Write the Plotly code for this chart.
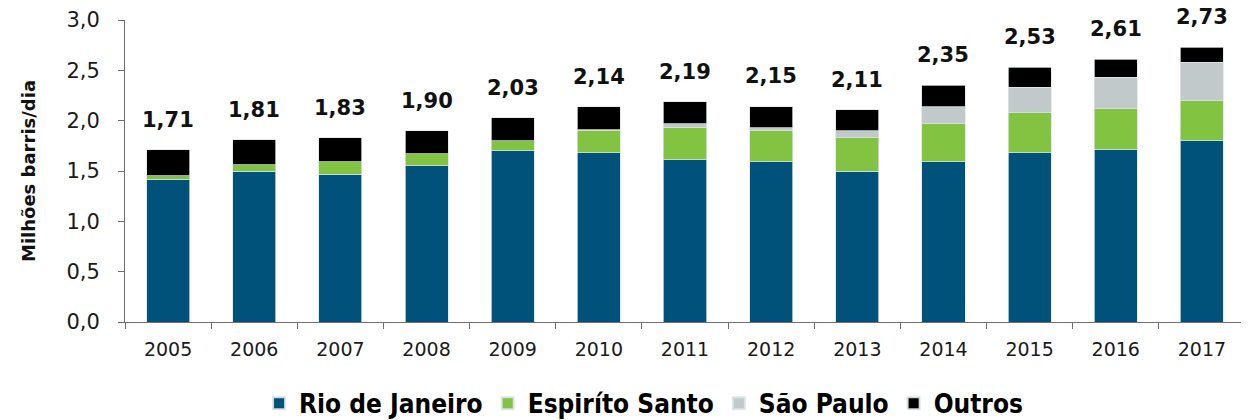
import plotly.graph_objects as go

years = ["2005", "2006", "2007", "2008", "2009", "2010", "2011", "2012", "2013", "2014", "2015", "2016", "2017"]
rio = [1.42, 1.50, 1.47, 1.55, 1.70, 1.68, 1.61, 1.59, 1.50, 1.59, 1.68, 1.71, 1.80]
espirito = [0.035, 0.06, 0.12, 0.12, 0.10, 0.22, 0.32, 0.31, 0.33, 0.38, 0.40, 0.41, 0.40]
sao_paulo = [0.0, 0.0, 0.0, 0.0, 0.0, 0.01, 0.04, 0.03, 0.07, 0.17, 0.25, 0.31, 0.38]
outros = [0.255, 0.25, 0.24, 0.23, 0.23, 0.23, 0.22, 0.21, 0.21, 0.21, 0.20, 0.18, 0.15]
totals = [1.71, 1.81, 1.83, 1.90, 2.03, 2.14, 2.19, 2.15, 2.11, 2.35, 2.53, 2.61, 2.73]
total_labels = ["1,71", "1,81", "1,83", "1,90", "2,03", "2,14", "2,19", "2,15", "2,11", "2,35", "2,53", "2,61", "2,73"]
series_names = ["Rio de Janeiro", "Espiríto Santo", "São Paulo", "Outros"]
series_colors = ["#00527A", "#82C341", "#C2C9CA", "#000000"]

fig = go.Figure()
for name, vals, color in zip(series_names, [rio, espirito, sao_paulo, outros], series_colors):
    fig.add_trace(go.Bar(
        x=years, y=vals, name=name,
        marker=dict(color=color, line=dict(color="rgba(220,228,232,0.9)", width=0.8)),
    ))

# annotations on a category axis use the category index
for i, (tot, lab) in enumerate(zip(totals, total_labels)):
    fig.add_annotation(x=i, y=tot, text="<b>" + lab + "</b>", showarrow=False,
                       xref="x", yref="y", yanchor="middle", yshift=30, borderpad=0,
                       font=dict(family="DejaVu Sans", size=21, color="#111111"))

fig.update_layout(
    width=1249, height=420,
    barmode="stack", bargap=0.5,
    separators=",.",
    plot_bgcolor="white", paper_bgcolor="white",
    margin=dict(l=117, r=12, t=12, b=106, autoexpand=False),
    font=dict(family="DejaVu Sans", size=20, color="#1a1a1a"),
    showlegend=True,
    legend=dict(orientation="h", x=0.463, xanchor="center", y=-0.347, yanchor="bottom",
                font=dict(family="DejaVu Sans Condensed", size=26, color="#000000", weight="bold"),
                itemsizing="constant", traceorder="normal"),
    xaxis=dict(type="category", range=[-0.5, len(years) - 0.5], automargin=False,
               showline=True, linecolor="#6f6f6f", linewidth=1, ticks="outside",
               tickson="boundaries", ticklen=6, tickcolor="#6f6f6f", tickangle=0,
               ticklabelstandoff=10,
               tickfont=dict(family="DejaVu Sans", size=19, color="#1a1a1a")),
    yaxis=dict(range=[0, 3.0], dtick=0.5, tickformat=".1f", showgrid=False, automargin=False,
               showline=True, linecolor="#6f6f6f", linewidth=1, ticks="outside",
               ticklen=6, tickcolor="#6f6f6f", zeroline=False, ticklabelstandoff=14,
               tickfont=dict(family="DejaVu Sans", size=21, color="#1a1a1a"),
               title=dict(text="<b>Milhões barris/dia</b>", standoff=26,
                          font=dict(family="DejaVu Sans", size=18, color="#111111"))),
)

fig.write_html("out.html")
